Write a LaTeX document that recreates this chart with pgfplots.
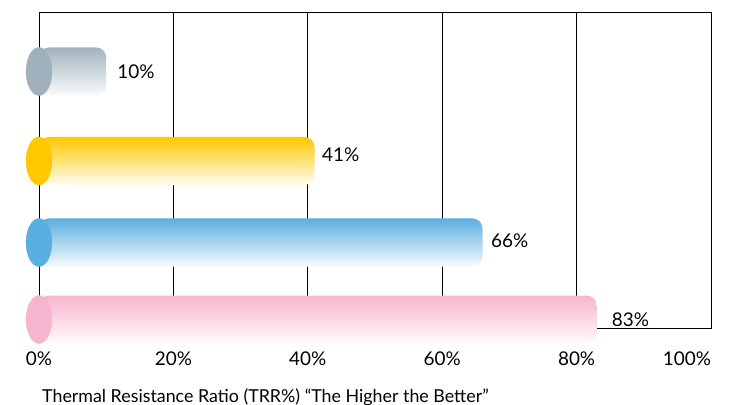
\documentclass[border=0pt]{standalone}
\usepackage{fontspec}
\setmainfont{Lato}
\usepackage{pgfplots}
\pgfplotsset{compat=1.18}
\definecolor{cgray}{HTML}{A0B3BE}
\definecolor{cgraycap}{HTML}{9FB1BC}
\definecolor{cyellow}{HTML}{FFC800}
\definecolor{cblue}{HTML}{5AAFE1}
\definecolor{cpink}{HTML}{F6B5CE}
\begin{document}
\begin{tikzpicture}
\begin{axis}[
 at={(0,0)}, anchor=south west,
 scale only axis, width=672bp, height=316bp,
 xmin=0, xmax=100, ymin=0, ymax=316,
 xtick={0,20,40,60,80,100},
 xticklabels={0\%,20\%,40\%,60\%,80\%,\makebox[0pt][r]{100\%}},
 ytick=\empty,
 xmajorgrids, grid style={black, line width=0.8bp},
 axis line style={black, line width=0.8bp},
 major tick length=0pt,
 tick label style={font=\fontsize{19}{22}\selectfont},
 xticklabel style={inner sep=0pt, yshift=-24bp},
 xlabel={Thermal Resistance Ratio (TRR\%) “The Higher the Better”},
 xlabel style={at={(axis description cs:0,0)}, anchor=north west, inner sep=0pt, xshift=3bp, yshift=-60bp, font=\fontsize{17.9}{20}\selectfont},
 clip=false,
 every node near coord/.append style={anchor=west, inner sep=0pt, font=\fontsize{19}{22}\selectfont, text=black},
]
\addplot[xbar, bar shift=0pt, bar width=48, draw=none, top color=cgray, bottom color=cgray!5, rounded corners=10bp,
  nodes near coords={10\%}, every node near coord/.append style={xshift=11bp}] coordinates {(10,256.5)};
\addplot[xbar, bar shift=0pt, bar width=48, draw=none, top color=cyellow, bottom color=cyellow!5, rounded corners=10bp,
  nodes near coords={41\%}, every node near coord/.append style={xshift=7.5bp, yshift=6bp}] coordinates {(41,167)};
\addplot[xbar, bar shift=0pt, bar width=48, draw=none, top color=cblue, bottom color=cblue!5, rounded corners=10bp,
  nodes near coords={66\%}, every node near coord/.append style={xshift=8.5bp, yshift=2bp}] coordinates {(66,85.5)};
\addplot[xbar, bar shift=0pt, bar width=48, draw=none, top color=cpink, bottom color=cpink!5, rounded corners=10bp,
  nodes near coords={83\%}, every node near coord/.append style={xshift=15bp}] coordinates {(83,8.5)};
\addplot[only marks, color=cgraycap, mark=*, mark size=24bp, mark options={xscale=0.54, fill=cgraycap, draw=cgraycap}] coordinates {(0,256.5)};
\addplot[only marks, color=cyellow, mark=*, mark size=24bp, mark options={xscale=0.54, fill=cyellow, draw=cyellow}] coordinates {(0,167)};
\addplot[only marks, color=cblue, mark=*, mark size=24bp, mark options={xscale=0.54, fill=cblue, draw=cblue}] coordinates {(0,85.5)};
\addplot[only marks, color=cpink, mark=*, mark size=24bp, mark options={xscale=0.54, fill=cpink, draw=cpink}] coordinates {(0,8.5)};
\end{axis}
\pgfresetboundingbox
\path (-39bp,-77bp) rectangle (699bp,328bp);
\end{tikzpicture}
\end{document}
